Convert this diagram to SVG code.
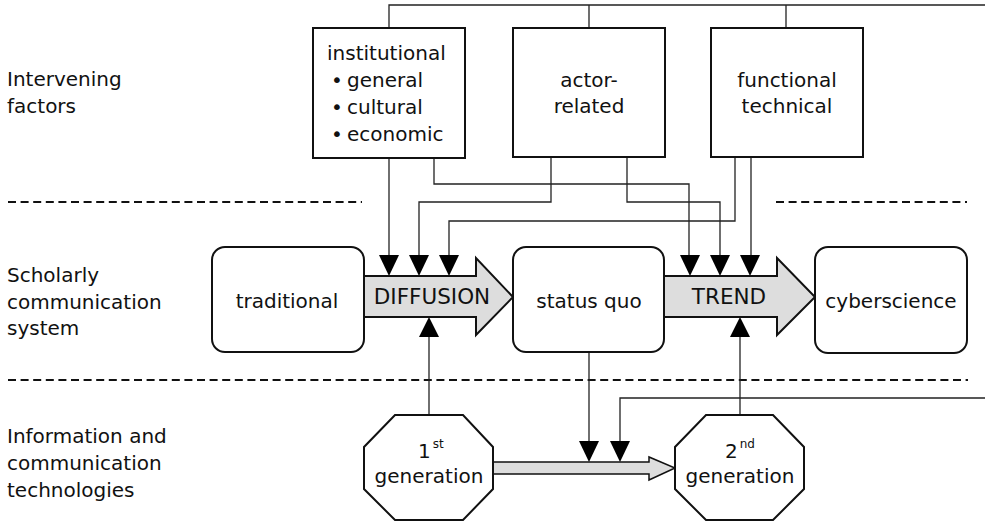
<svg xmlns="http://www.w3.org/2000/svg" width="985" height="522" viewBox="0 0 985 522">
<style>
text{font-family:"DejaVu Sans","Liberation Sans",sans-serif;font-size:20px;fill:#111}
.c{text-anchor:middle}
.caps{font-size:21.5px}
.sup{font-size:12px}
.box{fill:#fff;stroke:#111;stroke-width:2}
.big{fill:#ddd;stroke:#111;stroke-width:2;stroke-linejoin:miter}
.ln{fill:none;stroke:#222;stroke-width:1.3}
.dash{fill:none;stroke:#111;stroke-width:2;stroke-dasharray:8 4.6}
.ah{fill:#000}
</style>
<defs>
<path id="down" d="M-10,-21 L10,-21 L0,0 Z"/>
<path id="up" d="M-10,20 L10,20 L0,0 Z"/>
</defs>
<rect width="985" height="522" fill="#fff"/>

<g id="labels">
<text x="7" y="86">Intervening</text>
<text x="7" y="112.5">factors</text>
<text x="7" y="282">Scholarly</text>
<text x="7" y="308.5">communication</text>
<text x="7" y="335">system</text>
<text x="7" y="443">Information and</text>
<text x="7" y="470">communication</text>
<text x="7" y="497">technologies</text>
</g>

<g id="separators">
<path class="dash" d="M8,202 H362"/>
<path class="dash" d="M776,202 H967"/>
<path class="dash" d="M8,380 H968"/>
</g>

<g id="connectors">
<path class="ln" d="M389,28 V5 H985 M589,5 V28 M786,5 V28"/>
<path class="ln" d="M389,158 V262"/>
<path class="ln" d="M434,158 V184 H689 V262"/>
<path class="ln" d="M551,157 V202 H419 V262"/>
<path class="ln" d="M627,157 V202 H720 V262"/>
<path class="ln" d="M735,157 V221 H449 V262"/>
<path class="ln" d="M751,157 V262"/>
<path class="ln" d="M429,415 V330"/>
<path class="ln" d="M740,415 V330"/>
<path class="ln" d="M589,352 V448"/>
<path class="ln" d="M985,398 H620 V448"/>
<use href="#down" x="389" y="276" class="ah"/>
<use href="#down" x="419" y="276" class="ah"/>
<use href="#down" x="449" y="276" class="ah"/>
<use href="#down" x="690" y="276" class="ah"/>
<use href="#down" x="720" y="276" class="ah"/>
<use href="#down" x="750" y="276" class="ah"/>
<use href="#up" x="429" y="317" class="ah"/>
<use href="#up" x="740" y="317" class="ah"/>
<use href="#down" x="589" y="462" class="ah"/>
<use href="#down" x="620" y="462" class="ah"/>
</g>

<g id="institutional">
<rect class="box" x="313" y="28" width="152" height="130"/>
<text x="327" y="60">institutional</text>
<text x="331" y="87">•</text><text x="347" y="87">general</text>
<text x="331" y="114">•</text><text x="347" y="114">cultural</text>
<text x="331" y="141">•</text><text x="347" y="141">economic</text>
</g>

<g id="actor-related">
<rect class="box" x="513" y="28" width="152" height="129"/>
<text class="c" x="589" y="87">actor-</text>
<text class="c" x="589" y="113">related</text>
</g>

<g id="functional-technical">
<rect class="box" x="711" y="28" width="152" height="129"/>
<text class="c" x="787" y="87">functional</text>
<text class="c" x="787" y="113">technical</text>
</g>

<g id="traditional">
<rect class="box" x="212" y="247" width="152" height="105" rx="13"/>
<text class="c" x="287" y="308">traditional</text>
</g>

<g id="diffusion">
<polygon class="big" points="364,276 476,276 476,258 513,297 476,335 476,317 364,317"/>
<text class="c caps" x="432" y="304">DIFFUSION</text>
</g>

<g id="status-quo">
<rect class="box" x="513" y="247" width="151" height="105" rx="13"/>
<text class="c" x="589" y="308">status quo</text>
</g>

<g id="trend">
<polygon class="big" points="664,276 777,276 777,258 815,297 777,335 777,317 664,317"/>
<text class="c caps" x="729" y="304">TREND</text>
</g>

<g id="cyberscience">
<rect class="box" x="815" y="247" width="152" height="106" rx="13"/>
<text class="c" x="891" y="308">cyberscience</text>
</g>

<g id="ict-arrow">
<polygon class="big" points="493,462 649,462 649,457 675,468 649,480 649,474 493,474" style="stroke-width:1.5"/>
</g>

<g id="gen1">
<polygon class="box" points="395,415 463,415 493,447 493,489 463,520 395,520 364,489 364,447"/>
<text x="418" y="458">1<tspan class="sup" dx="2" dy="-10">st</tspan></text>
<text class="c" x="429" y="483">generation</text>
</g>

<g id="gen2">
<polygon class="box" points="706,415 773,415 804,447 804,489 773,520 706,520 675,489 675,447"/>
<text x="725" y="458">2<tspan class="sup" dx="2" dy="-10">nd</tspan></text>
<text class="c" x="740" y="483">generation</text>
</g>
</svg>
